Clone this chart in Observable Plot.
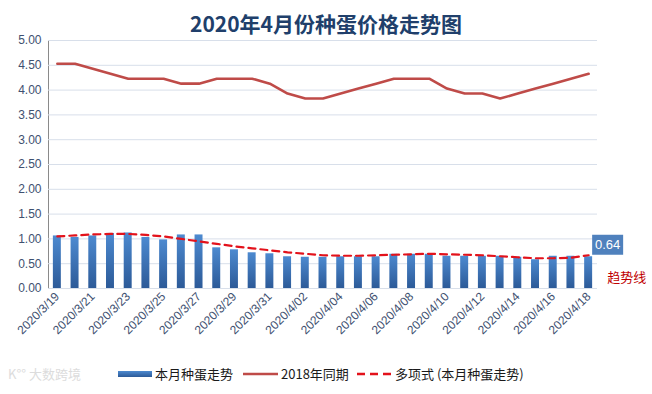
<!DOCTYPE html>
<html><head><meta charset="utf-8">
<script src="https://cdn.jsdelivr.net/npm/d3@7"></script>
<script src="https://cdn.jsdelivr.net/npm/@observablehq/plot@0.6"></script>
<style>
body{margin:0;background:#fff;}
#wrap{position:relative;width:652px;height:394px;overflow:hidden;background:#fff;}
#title{position:absolute;left:0;top:9px;width:652px;text-align:center;font-family:"Noto Sans CJK SC",sans-serif;font-weight:bold;font-size:21px;line-height:28px;color:#203f6b;}
#chart{position:absolute;left:0;top:36px;}
#chart [aria-label^="x-axis"] text,#chart [aria-label^="y-axis"] text{fill:#3e5070;}
#legend{position:absolute;left:0;top:364px;width:652px;height:20px;font-family:"Noto Sans CJK SC",sans-serif;font-size:13px;line-height:20px;color:#1a1a1a;}
#legend .it{position:absolute;top:0;white-space:nowrap;}
#legend .sw{position:absolute;}
#wm{position:absolute;left:8px;top:364px;font-family:"Noto Sans CJK SC",sans-serif;font-size:13px;line-height:20px;color:#dcdcdc;white-space:nowrap;}
</style>
</head><body>
<div id="wrap">
  <div id="title">2020年4月份种蛋价格走势图</div>
  <div id="chart"></div>
  <div id="wm">K°° 大数跨境</div>
  <div id="legend"></div>
</div>
<script>
const dates = ["2020/3/19","2020/3/20","2020/3/21","2020/3/22","2020/3/23","2020/3/24","2020/3/25","2020/3/26","2020/3/27","2020/3/28","2020/3/29","2020/3/30","2020/3/31","2020/4/01","2020/4/02","2020/4/03","2020/4/04","2020/4/05","2020/4/06","2020/4/07","2020/4/08","2020/4/09","2020/4/10","2020/4/11","2020/4/12","2020/4/13","2020/4/14","2020/4/15","2020/4/16","2020/4/17","2020/4/18"];
const xTickLabels = ["2020/3/19","2020/3/21","2020/3/23","2020/3/25","2020/3/27","2020/3/29","2020/3/31","2020/4/02","2020/4/04","2020/4/06","2020/4/08","2020/4/10","2020/4/12","2020/4/14","2020/4/16","2020/4/18"];
const yTicks = [0,0.5,1,1.5,2,2.5,3,3.5,4,4.5,5];
const currentMonth = [1.06,1.03,1.06,1.11,1.12,1.03,0.98,1.08,1.08,0.82,0.78,0.72,0.70,0.64,0.63,0.63,0.64,0.64,0.64,0.69,0.69,0.69,0.65,0.65,0.65,0.65,0.63,0.58,0.65,0.65,0.64];
const sameTime2018 = [4.53,4.53,4.43,4.33,4.23,4.23,4.23,4.13,4.13,4.23,4.23,4.23,4.13,3.93,3.83,3.83,3.93,4.03,4.13,4.23,4.23,4.23,4.03,3.93,3.93,3.83,3.93,4.03,4.13,4.23,4.33];
const trendPoly = [1.05,1.07,1.09,1.10,1.10,1.08,1.05,1.00,0.95,0.90,0.85,0.81,0.77,0.73,0.70,0.67,0.66,0.66,0.67,0.68,0.69,0.70,0.69,0.68,0.67,0.65,0.63,0.61,0.61,0.62,0.67];
const seriesNames = ["本月种蛋走势","2018年同期","多项式 (本月种蛋走势)"];
const trendNote = "趋势线";

const table = dates.map((d,i)=>({date:d, cur:currentMonth[i], y2018:sameTime2018[i], trend:trendPoly[i]}));
const lastRow = table.slice(-1);

const boxSymbol = {draw(ctx){ctx.moveTo(-15.5,-10);ctx.lineTo(15.5,-10);ctx.lineTo(15.5,10);ctx.lineTo(-15.5,10);ctx.closePath();}};

const plot = Plot.plot({
  width: 652, height: 322,
  marginTop: 4, marginBottom: 70, marginLeft: 48, marginRight: 55,
  style: {fontFamily: "'Liberation Sans', sans-serif", fontSize: "12px", color: "#8a8a8a", background: "#fff", overflow: "visible"},
  x: {type: "band", domain: dates, paddingInner: 0.55, paddingOuter: 0.275, align: 0.5, round: false, ticks: xTickLabels, tickSize: 0, tickPadding: 6, tickRotate: -45, label: null},
  y: {domain: [0,5], ticks: yTicks, tickFormat: d3.format(".2f"), tickSize: 0, tickPadding: 7, line: true, label: null},
  marks: [
    Plot.ruleY(yTicks, {stroke: "#d8dfea", strokeWidth: 1}),
    Plot.barY(table, {x: "date", y: "cur", fill: "url(#barGrad)"}),
    Plot.line(table, {x: "date", y: "y2018", stroke: "#bf4b48", strokeWidth: 2.6}),
    Plot.line(table, {x: "date", y: "trend", stroke: "#e3121b", strokeWidth: 2.2, strokeDasharray: "7,5"}),
    Plot.dot(lastRow, {x: "date", y: "cur", dx: 19, dy: -12, symbol: boxSymbol, fill: "#4f81bd", stroke: "none"}),
    Plot.text(lastRow, {x: "date", y: "cur", text: d => d.cur.toFixed(2), dx: 19, dy: -12, fill: "#fff", fontSize: 13}),
    Plot.text(lastRow, {x: "date", y: "cur", text: () => trendNote, dx: 38, dy: 21, fill: "#c00000", fontSize: 13, fontFamily: "Noto Sans CJK SC"})
  ]
});
const defs = d3.select(plot).insert("defs", ":first-child");
const g = defs.append("linearGradient").attr("id","barGrad").attr("x1",0).attr("y1",0).attr("x2",0).attr("y2",1);
g.append("stop").attr("offset","0%").attr("stop-color","#4d8ad0");
g.append("stop").attr("offset","100%").attr("stop-color","#2c5a98");
document.getElementById("chart").appendChild(plot);

const leg = document.getElementById("legend");
leg.innerHTML = `
<svg class="sw" style="left:118px;top:7px" width="34" height="6"><defs><linearGradient id="lg1" x1="0" y1="0" x2="0" y2="1"><stop offset="0" stop-color="#4d8ad0"/><stop offset="1" stop-color="#2c5a98"/></linearGradient></defs><rect width="34" height="6" fill="url(#lg1)"/></svg>
<span class="it" style="left:155px">${seriesNames[0]}</span>
<svg class="sw" style="left:243px;top:8px" width="35" height="4"><line x1="0" x2="35" y1="2" y2="2" stroke="#bf4b48" stroke-width="2.6"/></svg>
<span class="it" style="left:281px">${seriesNames[1]}</span>
<svg class="sw" style="left:357px;top:8px" width="36" height="4"><line x1="0" x2="36" y1="2" y2="2" stroke="#e3121b" stroke-width="2.6" stroke-dasharray="8,5"/></svg>
<span class="it" style="left:395px">${seriesNames[2]}</span>`;
</script>
</body></html>
